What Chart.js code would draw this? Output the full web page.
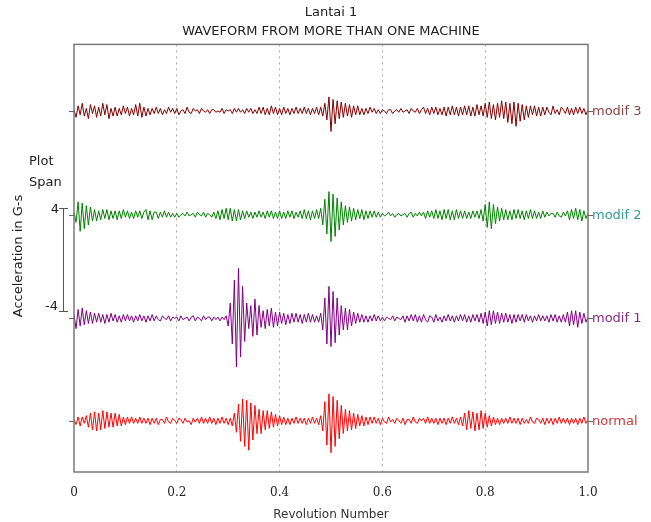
<!DOCTYPE html>
<html>
<head>
<meta charset="utf-8">
<script src="https://cdn.jsdelivr.net/npm/chart.js@4.4.1/dist/chart.umd.min.js"></script>
<style>
  html, body { margin: 0; padding: 0; background: #fff; }
</style>
</head>
<body>
<canvas id="chart-waveform" width="651" height="522"></canvas>
<script>
// waveforms sampled every 0.004 rev, values in G relative to each trace baseline
const sampleStep = 0.004;

const modif3 = [
  0.1, -0.5, 0.4, -0.3, 0.6, -0.4, 0.2, -0.6, 0.5, -0.2,
  0.4, -0.5, 0.3, -0.4, 0.6, -0.3, 0.5, -0.6, 0.2, -0.4,
  0.3, -0.4, 0.2, -0.3, 0.4, -0.2, 0.3, -0.4, 0.2, -0.3,
  0.5, -0.4, 0.6, -0.5, 0.3, -0.4, 0.2, -0.3, 0.2, -0.2,
  0.3, -0.2, 0.2, -0.3, 0.1, -0.2, 0.3, -0.1, 0.2, -0.2,
  0.2, -0.3, 0.0, 0.1, -0.2, 0.3, -0.1, -0.2, 0.2, 0.0,
  0.1, -0.2, 0.2, 0.0, -0.1, 0.1, -0.2, 0.1, 0.1, -0.1,
  0.0, -0.1, 0.2, -0.2, 0.1, 0.0, 0.1, -0.2, 0.2, -0.1,
  0.2, -0.1, 0.1, -0.2, 0.2, -0.1, 0.2, -0.2, 0.1, -0.2,
  0.3, -0.2, 0.3, -0.3, 0.2, -0.3, 0.4, -0.2, 0.3, -0.3,
  0.2, -0.3, 0.3, -0.2, 0.2, -0.3, 0.2, -0.2, 0.3, -0.2,
  0.2, -0.2, 0.3, -0.2, 0.2, -0.3, 0.2, -0.2, 0.3, -0.3,
  0.3, -0.4, 0.6, -0.7, 1.1, -1.6, 0.9, -1.0, 0.8, -0.6,
  0.7, -0.5, 0.6, -0.4, 0.5, -0.5, 0.4, -0.3, 0.4, -0.3,
  0.2, -0.3, 0.2, -0.2, 0.3, -0.1, 0.2, -0.2, 0.1, -0.2,
  0.1, 0.0, -0.2, 0.1, 0.1, -0.2, 0.0, 0.1, -0.1, 0.2,
  -0.1, 0.0, 0.1, -0.2, 0.2, 0.0, -0.1, 0.2, -0.2, 0.1,
  0.3, -0.2, 0.2, -0.3, 0.3, -0.2, 0.3, -0.3, 0.2, -0.3,
  0.3, -0.4, 0.3, -0.3, 0.4, -0.3, 0.3, -0.4, 0.3, -0.3,
  0.4, -0.3, 0.4, -0.4, 0.3, -0.4, 0.5, -0.3, 0.4, -0.4,
  0.6, -0.5, 0.7, -0.6, 0.5, -0.7, 0.6, -0.5, 0.8, -0.6,
  0.7, -0.9, 0.6, -1.0, 0.7, -1.2, 0.6, -0.8, 0.5, -0.7,
  0.4, -0.5, 0.4, -0.3, 0.4, -0.4, 0.3, -0.4, 0.3, -0.3,
  0.3, -0.1, -0.3, 0.4, -0.2, 0.1, -0.3, 0.3, 0.1, -0.2,
  0.3, -0.3, 0.2, -0.3, 0.3, -0.2, 0.3, -0.2, 0.2, -0.3, 0.1
];

const modif2 = [
  0.2, -0.6, 1.0, -1.3, 0.9, -1.1, 0.7, -0.8, 0.6, -0.5,
  0.4, -0.5, 0.3, -0.4, 0.4, -0.3, 0.4, -0.4, 0.3, -0.3,
  0.3, -0.4, 0.3, -0.3, 0.4, -0.2, 0.3, -0.3, 0.2, -0.3,
  0.3, -0.2, 0.3, -0.3, 0.2, 0.4, -0.4, 0.3, -0.4, 0.2,
  0.2, -0.3, 0.2, -0.2, 0.3, -0.2, 0.2, -0.2, 0.1, -0.2,
  0.1, -0.2, 0.0, 0.1, -0.1, 0.2, -0.1, 0.0, 0.1, -0.2,
  0.2, 0.0, -0.1, 0.2, -0.2, 0.1, 0.0, -0.2, 0.2, -0.3,
  0.3, -0.4, 0.4, -0.3, 0.5, -0.4, 0.5, -0.5, 0.4, -0.5,
  0.4, -0.4, 0.3, -0.3, 0.3, -0.2, 0.2, -0.3, 0.2, -0.2,
  0.3, -0.2, 0.2, -0.3, 0.3, -0.2, 0.3, -0.3, 0.2, -0.3,
  0.3, -0.3, 0.2, -0.3, 0.3, -0.2, 0.3, -0.3, 0.2, -0.2,
  0.3, -0.3, 0.4, -0.3, 0.3, -0.4, 0.3, -0.3, 0.4, -0.3,
  0.5, -0.8, 1.2, -1.5, 1.8, -2.1, 1.6, -1.7, 1.3, -1.2,
  1.0, -0.8, 0.7, -0.6, 0.6, -0.5, 0.5, -0.4, 0.4, -0.3,
  0.4, -0.4, 0.3, -0.3, 0.3, -0.2, 0.3, -0.2, 0.2, -0.2,
  0.1, -0.1, 0.0, 0.2, -0.1, 0.1, -0.2, 0.0, 0.1, -0.1,
  0.0, 0.1, -0.2, 0.1, 0.2, -0.2, 0.1, -0.1, 0.2, -0.1,
  0.2, -0.3, 0.3, -0.2, 0.3, -0.3, 0.4, -0.3, 0.3, -0.4,
  0.4, -0.3, 0.4, -0.4, 0.3, -0.4, 0.4, -0.3, 0.3, -0.3,
  0.3, -0.3, 0.2, -0.3, 0.3, -0.2, 0.3, -0.3, 0.4, -0.5,
  0.8, -1.0, 1.0, -1.1, 0.8, -0.7, 0.6, -0.5, 0.5, -0.4,
  0.4, -0.4, 0.3, -0.4, 0.4, -0.3, 0.4, -0.3, 0.3, -0.4,
  0.3, -0.3, 0.4, -0.3, 0.3, -0.3, 0.2, -0.3, 0.3, -0.2,
  0.2, -0.1, 0.1, 0.1, -0.2, 0.2, -0.1, -0.2, 0.2, -0.1,
  0.3, -0.4, 0.4, -0.3, 0.5, -0.4, 0.4, -0.5, 0.3, -0.3, 0.1
];

const modif1 = [
  0.3, -0.8, 0.7, -0.6, 0.8, -0.5, 0.6, -0.4, 0.5, -0.4,
  0.4, -0.3, 0.4, -0.3, 0.3, -0.4, 0.3, -0.3, 0.4, -0.2,
  0.3, -0.3, 0.2, -0.3, 0.3, -0.2, 0.3, -0.2, 0.2, -0.3,
  0.2, -0.2, 0.3, -0.2, 0.2, -0.3, 0.2, -0.2, 0.3, -0.2,
  0.2, -0.1, -0.2, 0.2, 0.0, -0.1, 0.2, -0.2, 0.1, 0.0,
  0.1, -0.2, 0.2, -0.1, 0.0, 0.1, -0.2, 0.1, 0.2, -0.2,
  0.1, 0.0, -0.2, 0.2, -0.1, 0.1, 0.1, -0.2, 0.1, -0.1,
  0.1, -0.2, 0.1, -0.1, 0.2, -0.6, 1.2, -2.0, 3.0, -3.8,
  3.9, -3.0, 2.5, -1.8, 1.2, -0.8, 1.0, -1.4, 1.5, -1.3,
  1.0, -0.7, 0.6, -0.8, 0.7, -0.6, 0.8, -0.7, 0.5, -0.6,
  0.5, -0.4, 0.4, -0.5, 0.3, -0.4, 0.4, -0.3, 0.4, -0.3,
  0.3, -0.4, 0.3, -0.3, 0.4, -0.3, 0.3, -0.3, 0.2, -0.3,
  0.4, -0.9, 1.6, -2.0, 2.5, -2.2, 2.1, -1.9, 1.6, -1.3,
  1.0, -0.9, 0.8, -0.9, 0.7, -0.6, 0.5, -0.4, 0.4, -0.3,
  0.3, -0.3, 0.2, -0.3, 0.2, -0.2, 0.3, -0.2, 0.2, -0.2,
  0.1, -0.2, 0.1, 0.0, -0.1, 0.2, -0.2, 0.1, 0.0, -0.1,
  0.2, -0.3, 0.2, -0.2, 0.3, -0.2, 0.3, -0.3, 0.2, -0.3,
  0.3, -0.1, -0.3, 0.2, 0.1, -0.3, 0.3, -0.2, 0.1, -0.3,
  0.2, -0.2, 0.3, -0.2, 0.2, -0.3, 0.2, -0.2, 0.3, -0.2,
  0.3, -0.3, 0.2, -0.3, 0.3, -0.2, 0.3, -0.3, 0.4, -0.4,
  0.5, -0.6, 0.6, -0.5, 0.6, -0.4, 0.5, -0.4, 0.4, -0.3,
  0.4, -0.3, 0.3, -0.4, 0.3, -0.3, 0.3, -0.2, 0.3, -0.3,
  0.3, -0.2, 0.2, -0.3, 0.2, -0.2, 0.3, -0.2, 0.2, -0.2,
  0.2, -0.3, 0.3, -0.2, 0.3, -0.3, 0.2, -0.3, 0.3, -0.3,
  0.5, -0.6, 0.6, -0.5, 0.6, -0.7, 0.5, -0.4, 0.4, -0.3, 0.1
];

const normal = [
  0.1, -0.3, 0.3, -0.4, 0.3, -0.2, 0.4, -0.5, 0.6, -0.7,
  0.7, -0.8, 0.6, -0.7, 0.8, -0.6, 0.7, -0.5, 0.6, -0.5,
  0.6, -0.4, 0.5, -0.4, 0.3, -0.3, 0.3, -0.2, 0.3, -0.2,
  0.2, -0.2, 0.3, -0.2, 0.2, -0.2, 0.2, -0.3, 0.2, -0.2,
  0.2, -0.3, 0.1, 0.1, -0.2, 0.3, -0.1, -0.2, 0.2, 0.0,
  -0.2, 0.2, 0.1, -0.2, 0.2, -0.1, 0.0, -0.3, 0.2, -0.1,
  0.2, -0.2, 0.3, -0.2, 0.2, -0.2, 0.3, -0.2, 0.2, -0.3,
  0.2, -0.2, 0.3, -0.2, 0.2, -0.3, 0.2, -0.4, 0.6, -0.9,
  1.3, -1.6, 1.7, -2.0, 1.6, -2.3, 1.4, -1.5, 1.2, -1.0,
  0.9, -1.0, 0.8, -0.7, 0.8, -0.6, 0.7, -0.5, 0.5, -0.4,
  0.4, -0.3, 0.3, -0.3, 0.2, -0.3, 0.2, -0.2, 0.3, -0.2,
  0.2, -0.2, 0.2, -0.3, 0.2, -0.2, 0.3, -0.2, 0.2, -0.3,
  0.4, -0.8, 1.5, -1.9, 2.1, -2.5, 1.9, -2.0, 1.6, -1.4,
  1.2, -1.0, 0.9, -0.8, 0.8, -0.7, 0.6, -0.6, 0.5, -0.4,
  0.4, -0.4, 0.3, -0.3, 0.3, -0.2, 0.3, -0.2, 0.2, -0.3,
  0.2, -0.1, -0.2, 0.3, -0.1, 0.1, -0.2, 0.2, 0.0, -0.2,
  0.2, -0.3, 0.1, 0.1, -0.2, 0.3, -0.1, -0.2, 0.2, 0.0,
  0.2, -0.2, 0.3, -0.2, 0.2, -0.2, 0.2, -0.3, 0.2, -0.2,
  0.2, -0.3, 0.2, -0.2, 0.3, -0.2, 0.2, -0.3, 0.3, -0.4,
  0.6, -0.7, 0.8, -0.6, 0.7, -0.8, 0.6, -0.7, 0.8, -0.6,
  0.6, -0.5, 0.4, -0.4, 0.3, -0.3, 0.2, -0.3, 0.2, -0.2,
  0.2, -0.2, 0.3, -0.2, 0.2, -0.2, 0.2, -0.3, 0.2, -0.2,
  0.1, -0.2, 0.3, -0.1, -0.2, 0.2, 0.1, -0.2, 0.2, -0.3,
  0.2, -0.2, 0.2, -0.3, 0.2, -0.2, 0.3, -0.2, 0.2, -0.2,
  0.2, -0.3, 0.2, -0.2, 0.2, -0.3, 0.2, -0.2, 0.3, -0.2, 0.1
];

const traceNames = ["modif 3", "modif 2", "modif 1", "normal"];
const traceValues = [modif3, modif2, modif1, normal];
const traceOffsets = [24.2, 16.1, 8.0, 0];
const xTickLabels = ["0", "0.2", "0.4", "0.6", "0.8", "1.0"];
const spanLimits = [8.6, 16.6];
const spanLabels = ["-4", "4"];

const lineColors = ["#800000", "#008000", "#800080", "#ff0000"];
const labelColors = ["#8b4545", "#339999", "#8b2a8b", "#cc3a3a"];

const decor = {
  id: "decor",
  afterDraw(chart) {
    const ctx = chart.ctx;
    const { left, right, top, bottom } = chart.chartArea;
    const y = chart.scales.y;
    ctx.save();

    // frame
    ctx.strokeStyle = "#7a7a7a";
    ctx.lineWidth = 1.5;
    ctx.strokeRect(left, top, right - left, bottom - top);

    // baseline ticks + labels on the right
    ctx.font = "13px 'DejaVu Sans'";
    ctx.textBaseline = "middle";
    ctx.textAlign = "left";
    traceOffsets.forEach((off, i) => {
      const py = Math.round(y.getPixelForValue(off)) + 0.5;
      ctx.strokeStyle = "#666";
      ctx.lineWidth = 1;
      ctx.beginPath();
      ctx.moveTo(left - 5, py); ctx.lineTo(left, py);
      ctx.moveTo(right, py); ctx.lineTo(right + 5, py);
      ctx.stroke();
      ctx.fillStyle = labelColors[i];
      ctx.fillText(traceNames[i], right + 4, py);
    });

    // plot span bar
    const pLo = Math.round(y.getPixelForValue(spanLimits[0])) + 0.5;
    const pHi = Math.round(y.getPixelForValue(spanLimits[1])) + 0.5;
    ctx.strokeStyle = "#555";
    ctx.beginPath();
    ctx.moveTo(63.5, pHi); ctx.lineTo(63.5, pLo);
    ctx.moveTo(59, pHi); ctx.lineTo(68, pHi);
    ctx.moveTo(59, pLo); ctx.lineTo(68, pLo);
    ctx.stroke();
    ctx.fillStyle = "#222";
    ctx.font = "13px 'DejaVu Sans'";
    ctx.textAlign = "right";
    ctx.fillText(spanLabels[1], 59, pHi + 1);
    ctx.fillText(spanLabels[0], 58, pLo - 5);
    ctx.textAlign = "left";
    ctx.fillText("Plot", 29, 162);
    ctx.fillText("Span", 29, 183);

    // y axis title
    ctx.translate(19, 256);
    ctx.rotate(-Math.PI / 2);
    ctx.textAlign = "center";
    ctx.fillText("Acceleration in G-s", 0, 0);
    ctx.restore();
  }
};

new Chart(document.getElementById("chart-waveform"), {
  type: "line",
  data: {
    datasets: traceValues.map((vals, i) => ({
      label: traceNames[i],
      data: vals.map((v, k) => ({ x: k * sampleStep, y: traceOffsets[i] + v })),
      borderColor: lineColors[i],
      borderWidth: 1,
      pointRadius: 0,
      tension: 0,
      fill: false,
    })),
  },
  options: {
    responsive: false,
    animation: false,
    layout: { padding: { left: 74, right: 63, top: 0, bottom: 0 } },
    scales: {
      x: {
        type: "linear",
        min: 0,
        max: 1,
        afterFit: (scale) => { scale.height = 50; },
        ticks: {
          stepSize: 0.2,
          padding: 14,
          color: "#222",
          font: { family: "'DejaVu Serif'", size: 12 },
          callback: (v, i) => xTickLabels[i],
        },
        grid: {
          drawTicks: false,
          color: (c) => (c.index === 0 || c.index === 5 ? "rgba(0,0,0,0)" : "#a8a8a8"),
        },
        border: { display: false, dash: [2, 4] },
        title: {
          display: true,
          text: "Revolution Number",
          color: "#333",
          padding: { top: 0, bottom: 0 },
          font: { family: "'DejaVu Sans'", size: 12 },
        },
      },
      y: {
        display: false,
        min: -4,
        max: 29.4,
      },
    },
    plugins: {
      legend: { display: false },
      tooltip: { enabled: false },
      title: {
        display: true,
        text: ["Lantai 1", "WAVEFORM FROM MORE THAN ONE MACHINE"],
        color: "#222",
        font: { family: "'DejaVu Sans'", size: 13, weight: "normal", lineHeight: 1.4 },
        padding: { top: 4, bottom: 4 },
      },
    },
  },
  plugins: [decor],
});
</script>
</body>
</html>
